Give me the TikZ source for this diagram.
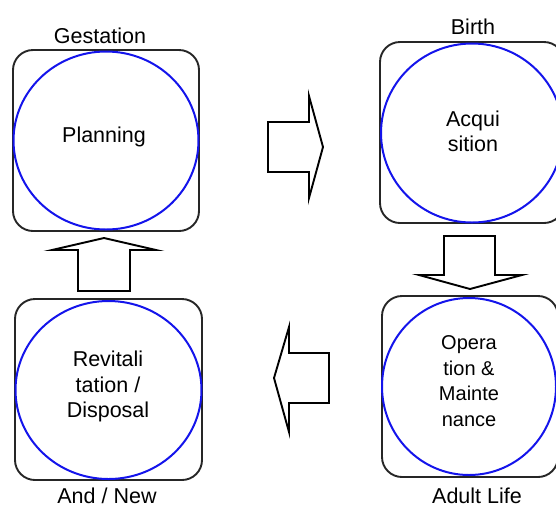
\documentclass[tikz,border=0pt]{standalone}
\usepackage{fontspec}
\setmainfont{Liberation Sans}
\usetikzlibrary{shapes.geometric}
\definecolor{ringblue}{RGB}{20,20,235}
\tikzset{
  box/.style={draw=black!85, line width=1.9pt, rounded corners=20pt, inner sep=0pt},
  ring/.style={draw=ringblue, line width=2pt, ellipse, inner sep=0pt},
  lab/.style={font=\fontsize{21.5}{24}\selectfont, inner sep=0pt, anchor=base},
  txt/.style={font=\fontsize{21.5}{25.5}\selectfont, inner sep=0pt, align=center},
  blockarrow/.style={draw=black, line width=1.9pt, line join=miter, fill=white}
}
\begin{document}
\begin{tikzpicture}[x=1pt,y=-1pt]
\useasboundingbox (0,0) rectangle (556,507);
\clip (0,0) rectangle (556,507);
% boxes
\node[box, minimum width=186pt, minimum height=181pt] (tlbox) at (106,140.5) {};
\node[box, minimum width=184pt, minimum height=181pt] (trbox) at (472,132.5) {};
\node[box, minimum width=187pt, minimum height=181pt] (blbox) at (108.5,389.5) {};
\node[box, minimum width=176pt, minimum height=181pt] (brbox) at (470,386.5) {};
% rings
\node[ring, minimum width=185pt, minimum height=178pt] (tlring) at (tlbox.center) {};
\node[ring, minimum width=182pt, minimum height=179pt] (trring) at (472,133) {};
\node[ring, minimum width=186pt, minimum height=178pt] (blring) at (108.5,390) {};
\node[ring, minimum width=174pt, minimum height=177pt] (brring) at (469,386.5) {};
% inner texts
\node[lab] (plan) at (104,142) {Planning};
\node[txt] (acq) at (473,131.5) {Acqui\\sition};
\node[txt] (rev) at (108,386.5) {Revitali\\tation /\\Disposal};
\node[txt, font=\fontsize{20}{25.7}\selectfont] (opm) at (469,381) {Opera\\tion \&\\Mainte\\nance};
% outer labels
\node[lab] (gest) at (100,43) {Gestation};
\node[lab] (birth) at (473,34) {Birth};
\node[lab] (andnew) at (107,503) {And / New};
\node[lab] (adult) at (477,503) {Adult Life};
% block arrows
\draw[blockarrow] (268,122) -- (309,122) -- (309,96) -- (323,147) -- (309,198) -- (309,172) -- (268,172) -- cycle;
\draw[blockarrow] (444,236) -- (495,236) -- (495,275) -- (522,275) -- (470,289) -- (419,275) -- (444,275) -- cycle;
\draw[blockarrow] (329,353) -- (289,353) -- (289,327) -- (274,378) -- (289,432) -- (289,403) -- (329,403) -- cycle;
\draw[blockarrow] (78,291) -- (78,250) -- (52,250) -- (104,238) -- (156,250) -- (130,250) -- (130,291) -- cycle;
\end{tikzpicture}
\end{document}
